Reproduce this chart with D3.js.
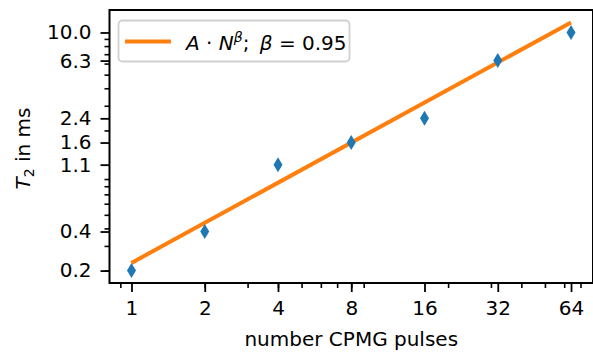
<!DOCTYPE html>
<html>
<head>
<meta charset="utf-8">
<script src="https://cdn.jsdelivr.net/npm/d3@7"></script>
<style>
  body { margin: 0; background: #fff; }
  svg { display: block; font-family: "DejaVu Sans", sans-serif; }
  .tick text { font-size: 20px; fill: #000; font-family: "DejaVu Sans", sans-serif; }
</style>
</head>
<body>
<svg class="chart"></svg>
<script>
// pulses and measured T2 (ms)
var pulses = [1, 2, 4, 8, 16, 32, 64];
var t2 = [0.2, 0.38, 1.14, 1.64, 2.44, 6.3, 10.0];

// fitted power law, read at the two ends of the orange line
var fitN = [1, 64];
var fitT2 = [0.227, 11.8];
var fitLabelBeta = "0.95";

var xTicks = pulses;
var yTicks = t2;

var width = 593;
var height = 352;
var plot = { left: 109.5, right: 593, top: 10, bottom: 283 };
var fs = 20;

var blue = "#1f77b4";
var orange = "#ff7f0e";

var chart = d3.select(".chart")
    .attr("width", width)
    .attr("height", height);

// matplotlib style 5% margins in log space
function logPad(lo, hi, base) {
    var a = Math.log(lo) / Math.log(base), b = Math.log(hi) / Math.log(base);
    var m = (b - a) * 0.05;
    return [Math.pow(base, a - m), Math.pow(base, b + m)];
}

var x = d3.scaleLog()
    .base(2)
    .domain(logPad(d3.min(pulses), d3.max(pulses), 2))
    .range([plot.left, plot.right]);

var yAll = t2.concat(fitT2);
var y = d3.scaleLog()
    .domain(logPad(d3.min(yAll), d3.max(yAll), 10))
    .range([plot.bottom, plot.top]);

// minor ticks like matplotlib: 2..9 times each decade
function minorTicks(dom) {
    var out = [];
    for (var e = -2; e <= 3; e++) {
        for (var s = 2; s <= 9; s++) {
            var v = s * Math.pow(10, e);
            if (v >= dom[0] && v <= dom[1]) out.push(v);
        }
    }
    return out;
}

var g = chart.append("g");

// minor ticks
g.append("g")
    .attr("transform", "translate(0," + plot.bottom + ")")
    .call(d3.axisBottom(x).tickValues(minorTicks(x.domain())).tickSize(5).tickFormat(""))
    .call(function(s) { s.select(".domain").remove(); })
    .selectAll("line").attr("stroke-width", 1.6);

g.append("g")
    .attr("transform", "translate(" + plot.left + ",0)")
    .call(d3.axisLeft(y).tickValues(minorTicks(y.domain())).tickSize(5).tickFormat(""))
    .call(function(s) { s.select(".domain").remove(); })
    .selectAll("line").attr("stroke-width", 1.6);

// major ticks
var xAxis = g.append("g")
    .attr("transform", "translate(0," + plot.bottom + ")")
    .call(d3.axisBottom(x).tickValues(xTicks).tickSize(9).tickPadding(9).tickFormat(d3.format("d")));
xAxis.select(".domain").remove();
xAxis.selectAll("line").attr("stroke-width", 1.8);

var yAxis = g.append("g")
    .attr("transform", "translate(" + plot.left + ",0)")
    .call(d3.axisLeft(y).tickValues(yTicks).tickSize(9).tickPadding(9).tickFormat(d3.format(".1f")));
yAxis.select(".domain").remove();
yAxis.selectAll("line").attr("stroke-width", 1.8);

// fit line
var line = d3.line()
    .x(function(d) { return x(d[0]); })
    .y(function(d) { return y(d[1]); });

g.append("path")
    .datum(d3.zip(fitN, fitT2))
    .attr("d", line)
    .attr("fill", "none")
    .attr("stroke", orange)
    .attr("stroke-width", 4);

// thin diamonds
var dh = 7.5, dw = 4.5;
g.selectAll("path.pt")
    .data(d3.zip(pulses, t2))
    .enter()
    .append("path")
    .attr("class", "pt")
    .attr("d", function(d) {
        var cx = x(d[0]), cy = y(d[1]);
        return "M" + cx + "," + (cy - dh) + "L" + (cx + dw) + "," + cy +
            "L" + cx + "," + (cy + dh) + "L" + (cx - dw) + "," + cy + "Z";
    })
    .attr("fill", blue);

// frame
g.append("rect")
    .attr("x", plot.left)
    .attr("y", plot.top)
    .attr("width", plot.right - plot.left)
    .attr("height", plot.bottom - plot.top)
    .attr("fill", "none")
    .attr("stroke", "#000")
    .attr("stroke-width", 2);

// axis labels
chart.append("text")
    .attr("x", (plot.left + plot.right) / 2)
    .attr("y", 346)
    .attr("text-anchor", "middle")
    .attr("font-size", fs)
    .text("number CPMG pulses");

var yl = chart.append("text")
    .attr("transform", "translate(30," + (plot.top + plot.bottom + 4) / 2 + ") rotate(-90)")
    .attr("text-anchor", "middle")
    .attr("font-size", fs);
yl.append("tspan").attr("font-style", "italic").text("T");
yl.append("tspan").attr("font-size", 14).attr("dy", 4).text("2");
yl.append("tspan").attr("dy", -4).text(" in ms");

// legend
var leg = chart.append("g");
leg.append("rect")
    .attr("x", 118.5).attr("y", 20.5)
    .attr("width", 231).attr("height", 41)
    .attr("rx", 4)
    .attr("fill", "#fff").attr("fill-opacity", 0.8)
    .attr("stroke", "#d0d0d0").attr("stroke-width", 1.8);
leg.append("line")
    .attr("x1", 125).attr("x2", 171)
    .attr("y1", 41.5).attr("y2", 41.5)
    .attr("stroke", orange).attr("stroke-width", 4);
var lt = leg.append("text")
    .attr("x", 186).attr("y", 50)
    .attr("font-size", fs)
    .attr("xml:space", "preserve");
lt.append("tspan").attr("font-style", "italic").text("A");
lt.append("tspan").text(" \u00b7 ");
lt.append("tspan").attr("font-style", "italic").text("N");
lt.append("tspan").attr("font-style", "italic").attr("font-size", 14).attr("dy", -8).text("\u03b2");
lt.append("tspan").attr("dy", 8).text("; \u2009");
lt.append("tspan").attr("font-style", "italic").text("\u03b2");
lt.append("tspan").text(" = " + fitLabelBeta);
</script>
</body>
</html>
